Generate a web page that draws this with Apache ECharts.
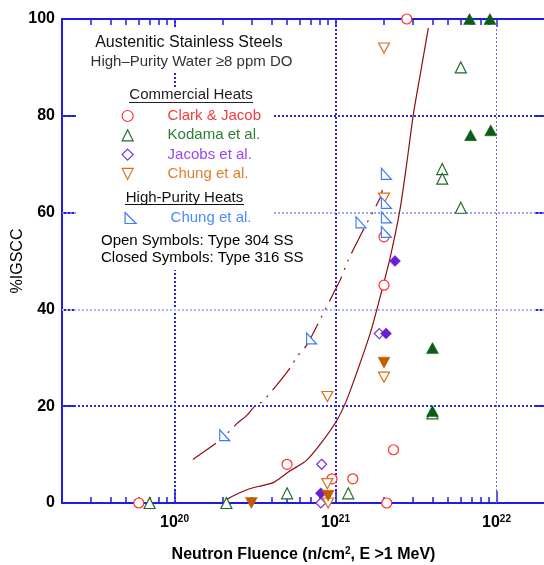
<!DOCTYPE html>
<html><head><meta charset="utf-8">
<script src="https://cdn.jsdelivr.net/npm/echarts@6/dist/echarts.min.js"></script>
<style>html,body{margin:0;padding:0;background:#fff}#c{width:544px;height:565px}</style>
</head><body><div id="c"></div>
<script>
// ---------- data ----------
const xMajorTicks = [1e20, 1e21, 1e22];
const xMinorTicks = [3e19,4e19,5e19,6e19,7e19,8e19,9e19,
                     2e20,3e20,4e20,5e20,6e20,7e20,8e20,9e20,
                     2e21,3e21,4e21,5e21,6e21,7e21,8e21,9e21];
const yGridValues = [20, 40, 60, 80];

// Clark & Jacob (commercial, open = 304 SS)
const clarkX = [6.0e19, 5.0e20, 9.5e20, 1.28e21, 2.08e21, 2.29e21, 2.0e21, 2.0e21, 2.77e21];
const clarkY = [0, 8, 5, 5, 0, 11, 45, 55, 100];
// Kodama et al.
const kodamaOpenX = [7.0e19, 2.1e20, 5.0e20, 1.2e21, 4.0e21, 4.6e21, 4.6e21, 6.0e21, 6.0e21];
const kodamaOpenY = [0, 0, 2, 2, 18.5, 69, 67, 61, 90];
const kodamaFilledX = [4.0e21, 4.0e21, 6.9e21, 9.2e21, 6.8e21, 9.1e21];
const kodamaFilledY = [32, 19, 76, 77, 100, 100];
// Jacobs et al.
const jacobsOpenX = [1.87e21, 8.2e20, 8.1e20];
const jacobsOpenY = [35, 8, 0];
const jacobsFilledX = [2.06e21, 2.34e21, 8.1e20];
const jacobsFilledY = [35, 50, 2];
// Chung et al. (commercial)
const chungOpenX = [2.0e21, 2.0e21, 2.0e21, 8.9e20, 8.9e20, 9.0e20];
const chungOpenY = [94, 63, 26, 22, 4, 0];
const chungFilledX = [2.0e21, 3.0e20, 9.0e20];
const chungFilledY = [29, 0, 1.5];
// Chung et al. (high-purity heats)
const chungHpX = [2.05e20, 7.1e20, 1.44e21, 2.07e21, 2.07e21, 2.07e21, 2.07e21];
const chungHpY = [14, 34, 58, 68, 62, 59, 56];

// trend curves
const solidCurveX = [2.1e20, 2.5e20, 2.9e20, 3.5e20, 4.1e20, 4.6e20, 5.2e20, 6.6e20, 8.4e20, 1.02e21, 1.17e21, 1.35e21, 1.64e21, 1.87e21, 2.18e21, 2.51e21, 2.77e21, 3.04e21, 3.34e21, 3.77e21];
const solidCurveY = [0.7, 2.0, 2.9, 3.6, 4.2, 5.3, 6.6, 8.8, 13, 17.1, 21.2, 26.8, 35, 41.9, 50.6, 60.5, 70.2, 80.2, 88.1, 98.1];
const dashCurveX = [1.3e20, 1.92e20, 2.44e20, 2.81e20, 3.09e20, 3.57e20, 4.3e20, 5.33e20, 5.74e20, 6.56e20, 7.8e20, 9.7e20, 1.07e21, 1.2e21, 1.38e21, 1.47e21, 1.89e21, 1.95e21];
const dashCurveY = [9.0, 13, 16.4, 18.1, 19.7, 21.2, 24.3, 28.3, 30.2, 32.4, 37.1, 43.3, 46.1, 50.2, 54.3, 56.1, 63, 64.7];

// ---------- chart ----------
function pts(xs, ys) { return xs.map((x, i) => [x, ys[i]]); }
const FONT = '"Liberation Sans", Arial, Helvetica, sans-serif';
const AX = '#1c1ce6';
const CURVE = '#8b0d0d';
const C = {
  clark: '#ff3030', clarkTxt: '#f03c3c',
  kod: '#1f6b2a', kodFill: '#0b5c17', kodTxt: '#2f7d33',
  jac: '#7a30e2', jacFill: '#6a1fd6', jacTxt: '#9a46ee',
  chu: '#d5701e', chuFill: '#c25c00', chuTxt: '#e07e2c',
  hp: '#3b7cff', hpTxt: '#4a8cff'
};

const logAxisBase = { type: 'log', logBase: 10, min: 2e19, max: 2e22, gridIndex: 0 };
const tickStyle = { color: AX, width: 1.5 };

function xLabelFmt(v) {
  const e = Math.log10(v);
  if (Math.abs(e - Math.round(e)) < 1e-6) return '{b|10}{s|' + Math.round(e) + '}';
  return '';
}

const gridLineData = [
  { xAxis: xMajorTicks[0], lineStyle: { color: '#2424e2', width: 2, type: [2, 2] } },
  { xAxis: xMajorTicks[1], lineStyle: { color: '#2424e2', width: 2, type: [2, 2] } },
  { xAxis: xMajorTicks[2], lineStyle: { color: '#6464f2', width: 1, type: [2, 2] } },
  { yAxis: yGridValues[0], lineStyle: { color: '#2a2ae6', width: 2, type: [2, 2] } },
  { yAxis: yGridValues[1], lineStyle: { color: '#aeb2f6', width: 2, type: [2, 2] } },
  { yAxis: yGridValues[2], lineStyle: { color: '#8686f4', width: 1.5, type: [2, 2] } },
  { yAxis: yGridValues[3], lineStyle: { color: '#2a2ae6', width: 2, type: [2, 2] } }
];

function openScatter(name, xs, ys, symbol, size, color, extra) {
  return Object.assign({
    type: 'scatter', name, data: pts(xs, ys), symbol, symbolSize: size,
    itemStyle: { color: '#ffffff', borderColor: color, borderWidth: 1.2, opacity: 1 },
    emphasis: { disabled: true }, z: 3
  }, extra || {});
}
function filledScatter(name, xs, ys, symbol, size, color, extra) {
  return Object.assign({
    type: 'scatter', name, data: pts(xs, ys), symbol, symbolSize: size,
    itemStyle: { color: color, borderColor: color, borderWidth: 0.5, opacity: 1 },
    emphasis: { disabled: true }, z: 3
  }, extra || {});
}

const RIGHT_TRI = 'path://M0,0L0,10L10,10Z';
const DOWN_TRI = 'path://M0,0L10,0L5,10Z';
const legendFmt = name => '{s| }' + (name === 'Chung et al. (HP)' ? 'Chung et al.' : name);
const legendText = { fontFamily: FONT, fontSize: 15, lineHeight: 19, rich: { s: { width: 29.5, lineHeight: 19 } } };
const legendItemStyle = { borderWidth: 1.2 };

const chart = echarts.init(document.getElementById('c'), null, { renderer: 'canvas' });
chart.setOption({
  animation: false,
  backgroundColor: '#ffffff',
  textStyle: { fontFamily: FONT },
  grid: { left: 62, right: -1, top: 19, bottom: 62, containLabel: false, outerBoundsMode: 'none' },
  xAxis: [
    Object.assign({}, logAxisBase, {
      position: 'bottom',
      name: 'Neutron Fluence (n/cm{sup|2}, E >1 MeV)',
      nameLocation: 'middle', nameGap: 43,
      nameTextStyle: { fontFamily: FONT, fontSize: 16, fontWeight: 'bold', color: '#000', lineHeight: 18,
        rich: { sup: { fontFamily: FONT, fontSize: 10, fontWeight: 'bold', color: '#000', lineHeight: 10, verticalAlign: 'top' } } },
      axisLine: { show: true, lineStyle: { color: AX, width: 2 } },
      axisTick: { show: true, inside: true, length: 12, lineStyle: tickStyle },
      minorTick: { show: false },
      axisLabel: { show: true, margin: 11, formatter: xLabelFmt, showMinLabel: false, showMaxLabel: false,
        rich: {
          b: { fontFamily: FONT, fontSize: 16, fontWeight: 'bold', color: '#000', lineHeight: 18 },
          s: { fontFamily: FONT, fontSize: 10, fontWeight: 'bold', color: '#000', lineHeight: 10, verticalAlign: 'top' }
        } },
      splitLine: { show: false }
    }),
    Object.assign({}, logAxisBase, {
      position: 'bottom',
      axisLine: { show: false },
      axisTick: { show: true, inside: true, length: 6, customValues: xMinorTicks, lineStyle: tickStyle },
      axisLabel: { show: false }, splitLine: { show: false }
    }),
    Object.assign({}, logAxisBase, {
      position: 'top',
      axisLine: { show: true, lineStyle: { color: AX, width: 2 } },
      axisTick: { show: true, inside: true, length: 8, lineStyle: tickStyle },
      axisLabel: { show: false }, splitLine: { show: false }
    }),
    Object.assign({}, logAxisBase, {
      position: 'top',
      axisLine: { show: false },
      axisTick: { show: true, inside: true, length: 6, customValues: xMinorTicks, lineStyle: tickStyle },
      axisLabel: { show: false }, splitLine: { show: false }
    })
  ],
  yAxis: [
    {
      type: 'value', min: 0, max: 100, interval: 20, position: 'left',
      name: '%IGSCC', nameLocation: 'middle', nameGap: 36, nameMoveOverlap: false,
      nameTextStyle: { fontFamily: FONT, fontSize: 16, color: '#000' },
      axisLine: { show: true, lineStyle: { color: AX, width: 2 } },
      axisTick: { show: true, inside: true, length: 12, lineStyle: { color: AX, width: 2 } },
      axisLabel: { fontFamily: FONT, fontSize: 16, fontWeight: 'bold', color: '#000', margin: 7 },
      splitLine: { show: false }
    },
    {
      type: 'value', min: 0, max: 100, interval: 20, position: 'right',
      axisLine: { show: true, lineStyle: { color: AX, width: 2 } },
      axisTick: { show: true, inside: true, length: 10, lineStyle: { color: AX, width: 2 } },
      axisLabel: { show: false }, splitLine: { show: false }
    }
  ],
  legend: [
    {
      orient: 'vertical', left: 121.5, top: 106.5, padding: 0, itemGap: 0.3,
      itemWidth: 11, itemHeight: 11, selectedMode: false, z: 6,
      itemStyle: legendItemStyle,
      formatter: legendFmt, textStyle: legendText,
      data: [
        { name: 'Clark & Jacob', textStyle: { color: C.clarkTxt } },
        { name: 'Kodama et al.', textStyle: { color: C.kodTxt } },
        { name: 'Jacobs et al.', textStyle: { color: C.jacTxt } },
        { name: 'Chung et al.', icon: DOWN_TRI, textStyle: { color: C.chuTxt } }
      ]
    },
    {
      orient: 'vertical', left: 124.5, top: 208.5, padding: 0, itemGap: 0,
      itemWidth: 11, itemHeight: 11, selectedMode: false, z: 6,
      itemStyle: legendItemStyle,
      formatter: legendFmt, textStyle: legendText,
      data: [{ name: 'Chung et al. (HP)', textStyle: { color: C.hpTxt } }]
    }
  ],
  graphic: [
    { type: 'rect', z: 4, silent: true, shape: { x: 85, y: 28, width: 212, height: 45 }, style: { fill: '#fff' } },
    { type: 'rect', z: 4, silent: true, shape: { x: 78, y: 87, width: 195, height: 183 }, style: { fill: '#fff' } },
    { type: 'text', z: 7, x: 189, y: 42.5, style: { text: 'Austenitic Stainless Steels', font: '16px ' + FONT, fill: '#111', align: 'center', verticalAlign: 'middle' } },
    { type: 'text', z: 7, x: 191.5, y: 62, style: { text: 'High\u2013Purity Water \u22658 ppm DO', font: '15px ' + FONT, fill: '#333', align: 'center', verticalAlign: 'middle' } },
    { type: 'text', z: 7, x: 191, y: 95, style: { text: 'Commercial Heats', font: '15px ' + FONT, fill: '#222', align: 'center', verticalAlign: 'middle' } },
    { type: 'line', z: 7, shape: { x1: 129, y1: 102.5, x2: 253, y2: 102.5 }, style: { stroke: '#222', lineWidth: 1 } },
    { type: 'text', z: 7, x: 184.5, y: 197.5, style: { text: 'High-Purity Heats', font: '15px ' + FONT, fill: '#111', align: 'center', verticalAlign: 'middle' } },
    { type: 'line', z: 7, shape: { x1: 125, y1: 204.5, x2: 244, y2: 204.5 }, style: { stroke: '#111', lineWidth: 1 } },
    { type: 'text', z: 7, x: 101, y: 240.7, style: { text: 'Open Symbols: Type 304 SS', font: '15px ' + FONT, fill: '#000', align: 'left', verticalAlign: 'middle' } },
    { type: 'text', z: 7, x: 101, y: 258.3, style: { text: 'Closed Symbols: Type 316 SS', font: '15px ' + FONT, fill: '#000', align: 'left', verticalAlign: 'middle' } }
  ],
  series: [
    {
      type: 'line', name: 'trend (solid)', data: pts(solidCurveX, solidCurveY),
      symbol: 'none', showSymbol: false, smooth: 0.25, silent: true, z: 2,
      lineStyle: { color: CURVE, width: 1.2 },
      markLine: { silent: true, symbol: ['none', 'none'], label: { show: false }, animation: false, z: 1,
        emphasis: { disabled: true }, data: gridLineData }
    },
    {
      type: 'line', name: 'trend (dash-dot)', data: pts(dashCurveX, dashCurveY),
      symbol: 'none', showSymbol: false, smooth: 0.25, silent: true, z: 2,
      lineStyle: { color: CURVE, width: 1.2, type: [28, 7, 2, 7, 2, 7] }
    },
    openScatter('Clark & Jacob', clarkX, clarkY, 'circle', 10, C.clark),
    openScatter('Kodama et al.', kodamaOpenX, kodamaOpenY, 'triangle', [11, 11], C.kod),
    filledScatter('Kodama et al. (316)', kodamaFilledX, kodamaFilledY, 'triangle', [12, 11], C.kodFill),
    openScatter('Jacobs et al.', jacobsOpenX, jacobsOpenY, 'diamond', [10, 10], C.jac),
    filledScatter('Jacobs et al. (316)', jacobsFilledX, jacobsFilledY, 'diamond', [11, 11], C.jacFill),
    openScatter('Chung et al.', chungOpenX, chungOpenY, 'triangle', [11, 10], C.chu, { symbolRotate: 180 }),
    filledScatter('Chung et al. (316)', chungFilledX, chungFilledY, 'triangle', [12, 11], C.chuFill, { symbolRotate: 180 }),
    openScatter('Chung et al. (HP)', chungHpX, chungHpY, RIGHT_TRI, [10, 11], C.hp)
  ]
});
</script>
</body></html>
